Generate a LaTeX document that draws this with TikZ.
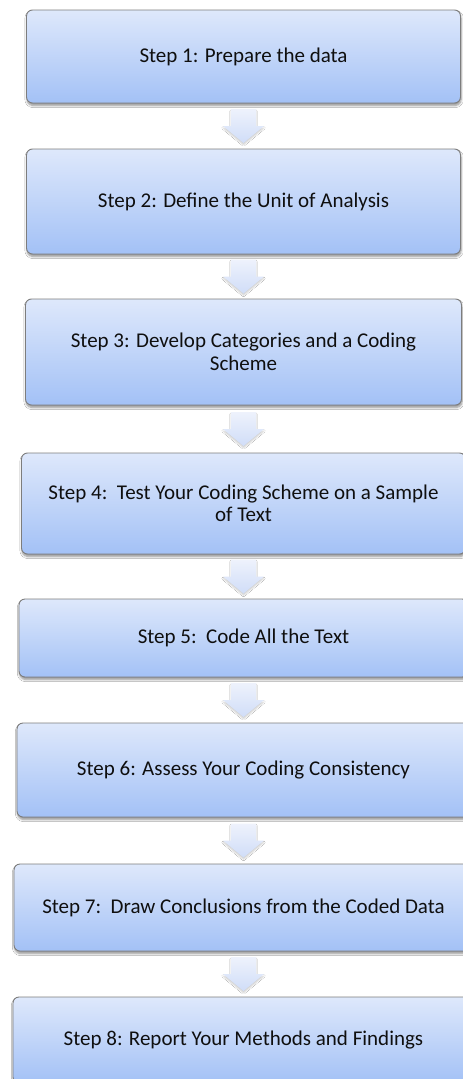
\documentclass[tikz,border=0pt]{standalone}
\usepackage{fontspec}
\setmainfont{Carlito}
\usetikzlibrary{shadows.blur,calc}
\definecolor{boxtop}{RGB}{222,232,251}
\definecolor{boxbot}{RGB}{163,193,246}
\definecolor{boxline}{RGB}{125,125,125}
\definecolor{arrtop}{RGB}{238,242,252}
\definecolor{arrbot}{RGB}{208,221,248}
\definecolor{txt}{RGB}{15,15,15}
\tikzset{
  stepbox/.style={draw=boxline, line width=0.9pt, rounded corners=6pt,
    top color=boxtop, bottom color=boxbot, inner sep=0pt, align=center,
    text=txt, font=\fontsize{21}{22.5}\selectfont,
    blur shadow={shadow xshift=0.6pt, shadow yshift=-2.4pt, shadow opacity=45,
      shadow blur steps=6, shadow blur radius=2.2pt}},
  arrowbody/.style={top color=arrtop, bottom color=arrbot, draw=none,
    blur shadow={shadow xshift=0pt, shadow yshift=-2pt, shadow opacity=18,
      shadow blur steps=4, shadow blur radius=1.2pt}},
  downarr/.pic={
    \path[arrowbody] (-12.5,-17) -- (12.5,-17) -- (12.5,0) -- (20.5,0)
      -- (0,17) -- (-20.5,0) -- (-12.5,0) -- cycle;
  }
}
\begin{document}
\begin{tikzpicture}[x=1pt,y=-1pt]
\useasboundingbox (0,0) rectangle (463,1079);
\fill[white] (0,0) rectangle (463,1079);
\clip (0,0) rectangle (463,1079);
\coordinate (ax) at (243.5,0);

\node[stepbox, minimum width=434pt, minimum height=93pt] (s1) at (243.5,56.5)
  {Step 1: Prepare the data};
\node[stepbox, minimum width=434pt, minimum height=105pt] (s2) at (243.5,201.5)
  {Step 2: Define the Unit of Analysis};
\node[stepbox, minimum width=436pt, minimum height=106pt] (s3) at (243.5,352)
  {Step 3: Develop Categories and a Coding\\Scheme};
\node[stepbox, minimum width=444pt, minimum height=101pt] (s4) at (243.5,503.5)
  {Step 4:\ \ Test Your Coding Scheme on a Sample\\of Text};
\node[stepbox, minimum width=449pt, minimum height=78pt] (s5) at (243.5,638)
  {Step 5:\ \ Code All the Text};
\node[stepbox, minimum width=453pt, minimum height=94pt] (s6) at (243.5,770)
  {Step 6: Assess Your Coding Consistency};
\node[stepbox, minimum width=459pt, minimum height=87pt] (s7) at (243.5,907.5)
  {Step 7:\ \ Draw Conclusions from the Coded Data};
\node[stepbox, minimum width=461pt, minimum height=86pt] (s8) at (243.5,1040)
  {Step 8: Report Your Methods and Findings};

\foreach \a/\b in {s1/s2,s2/s3,s3/s4,s4/s5,s5/s6,s6/s7,s7/s8}{
  \path (\a.south) -- (\b.north) coordinate[pos=0.5] (m-\a);
  \pic at (m-\a -| ax) {downarr};
}
\end{tikzpicture}
\end{document}
